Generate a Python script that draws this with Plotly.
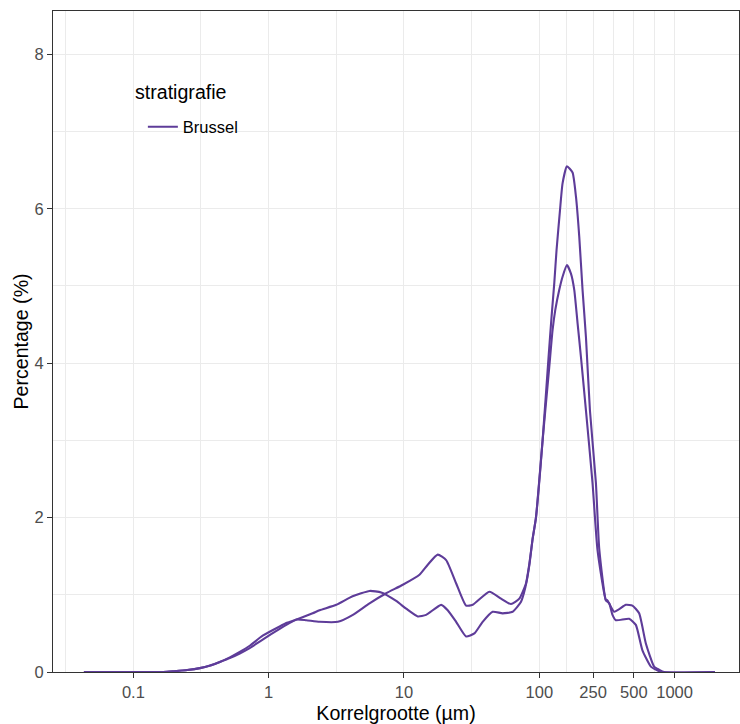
import plotly.graph_objects as go

# Grain-size distributions (laser diffraction), stratigraphic unit "Brussel"
size_a = [0.0431, 0.166, 0.20, 0.25, 0.310, 0.37, 0.435, 0.516, 0.611, 0.724, 0.903, 1.206,
          1.381, 1.609, 2.112, 2.378, 3.16, 4.17, 5.565, 6.79, 8.76, 10.38, 12.64, 14.58,
          18.82, 21.05, 24.28, 28.77, 33.14, 38.15, 45.22, 53.60, 63.54, 73.29, 79.0,
          84.4, 89.2, 94.5, 105.8, 117.1, 123.2, 129.1, 134.2, 142.2, 148.6, 160.1,
          176.1, 186.6, 197.4, 208.8, 221.2, 236.7, 262.1, 277.3, 310.7, 318.0, 357.7,
          436.4, 488.2, 547.0, 613.1, 706.2, 768.5, 836.7, 1990]
pct_a = [0, 0, 0.01, 0.025, 0.05, 0.085, 0.13, 0.19, 0.26, 0.34, 0.47, 0.59,
         0.64, 0.68, 0.76, 0.80, 0.87, 0.98, 1.05, 1.03, 0.92, 0.82, 0.72, 0.74,
         0.87, 0.80, 0.65, 0.46, 0.50, 0.65, 0.78, 0.76, 0.78, 0.91, 1.10,
         1.38, 1.72, 2.0, 3.0, 4.08, 4.60, 5.04, 5.47, 5.98, 6.33, 6.55,
         6.47, 6.16, 5.64, 4.95, 4.34, 3.39, 2.45, 1.60, 0.93, 0.93, 0.78,
         0.87, 0.86, 0.76, 0.37, 0.07, 0.03, 0, 0]

size_b = [0.0431, 0.166, 0.20, 0.25, 0.310, 0.37, 0.435, 0.516, 0.611, 0.724, 0.903, 1.206,
          1.381, 1.609, 1.90, 2.378, 3.246, 4.19, 5.565, 7.39, 9.80, 13.01, 14.99, 17.76,
          20.49, 24.28, 28.77, 32.19, 42.76, 52.17, 61.81, 71.18, 79.79, 84.4, 89.2,
          94.5, 105.8, 118.5, 125.4, 131.3, 140.5, 148.6, 160.1, 171.4, 181.3, 191.8,
          203.2, 221.2, 247.4, 269.4, 310.7, 328.6, 347.5, 368.2, 461.5, 517.2, 578.6,
          667.5, 726.6, 795.1, 1990]
pct_b = [0, 0, 0.01, 0.025, 0.05, 0.085, 0.13, 0.18, 0.24, 0.31, 0.42, 0.56,
         0.62, 0.68, 0.67, 0.65, 0.65, 0.74, 0.89, 1.02, 1.13, 1.26, 1.39, 1.52,
         1.45, 1.15, 0.86, 0.87, 1.04, 0.95, 0.88, 0.95, 1.15, 1.40, 1.72,
         2.0, 3.0, 3.95, 4.43, 4.69, 4.95, 5.12, 5.27, 5.16, 4.95, 4.52,
         4.08, 3.39, 2.45, 1.58, 0.93, 0.89, 0.74, 0.67, 0.69, 0.61, 0.28,
         0.07, 0.03, 0, 0]

x_ticks = [0.1, 1, 10, 100, 250, 500, 1000]
x_tick_labels = ["0.1", "1", "10", "100", "250", "500", "1000"]
x_minor = [0.0316, 0.316, 3.16, 31.6, 158.1, 353.6, 707.1]
y_ticks = [0, 2, 4, 6, 8]
y_minor = [1, 3, 5, 7]

LINE = "#5E3C99"
FONT = "Liberation Sans, Arial, sans-serif"
GRID = "#EBEBEB"

fig = go.Figure()
fig.add_trace(go.Scatter(x=size_a, y=pct_a, mode="lines", name="Brussel",
                         legendgroup="brussel",
                         line=dict(color=LINE, width=2.1, shape="spline", smoothing=0.5)))
fig.add_trace(go.Scatter(x=size_b, y=pct_b, mode="lines", name="Brussel",
                         legendgroup="brussel", showlegend=False,
                         line=dict(color=LINE, width=2.1, shape="spline", smoothing=0.5)))

# white legend background (sits above the grid, below the lines)
fig.add_shape(type="rect", xref="paper", yref="paper", layer="between",
              x0=(133 - 53) / 687, x1=(250 - 53) / 687,
              y0=1 - (148 - 11) / 661, y1=1 - (70 - 11) / 661,
              fillcolor="white", line=dict(width=0))

# legend title
fig.add_annotation(text="stratigrafie", xref="paper", yref="paper",
                   x=(133 - 53) / 687, y=1 - (92 - 11) / 661,
                   xanchor="left", yanchor="middle", showarrow=False,
                   font=dict(size=19.6, color="black", family=FONT))

fig.update_layout(
    width=740, height=724,
    margin=dict(l=53, r=1, t=11, b=52),
    paper_bgcolor="white", plot_bgcolor="white",
    font=dict(family=FONT, color="black"),
    legend=dict(
        x=(143 - 53) / 687, y=1 - (127 - 11) / 661, xanchor="left", yanchor="middle",
        bgcolor="rgba(0,0,0,0)", borderwidth=0,
        font=dict(size=16.5, color="black"),
    ),
    xaxis=dict(
        type="log", range=[-1.594, 3.476],
        tickvals=x_ticks, ticktext=x_tick_labels,
        ticks="outside", ticklen=5, tickcolor="#333333", tickwidth=1,
        tickfont=dict(size=16.5, color="#4D4D4D"),
        showgrid=True, gridcolor=GRID, gridwidth=1,
        minor=dict(tickvals=x_minor, showgrid=True, gridcolor=GRID, gridwidth=1, ticks=""),
        showline=True, linecolor="#333333", linewidth=1, mirror=True,
        zeroline=False,
        title=dict(text="Korrelgrootte (µm)", font=dict(size=19.6, color="black"), standoff=6),
    ),
    yaxis=dict(
        range=[0, 8.562],
        tickvals=y_ticks,
        ticks="outside", ticklen=5, tickcolor="#333333", tickwidth=1,
        tickfont=dict(size=16.5, color="#4D4D4D"),
        showgrid=True, gridcolor=GRID, gridwidth=1,
        minor=dict(tickvals=y_minor, showgrid=True, gridcolor=GRID, gridwidth=1, ticks=""),
        showline=True, linecolor="#333333", linewidth=1, mirror=True,
        zeroline=False,
        title=dict(text="Percentage (%)", font=dict(size=19.6, color="black"), standoff=0),
    ),
)

fig.write_html("out.html")
